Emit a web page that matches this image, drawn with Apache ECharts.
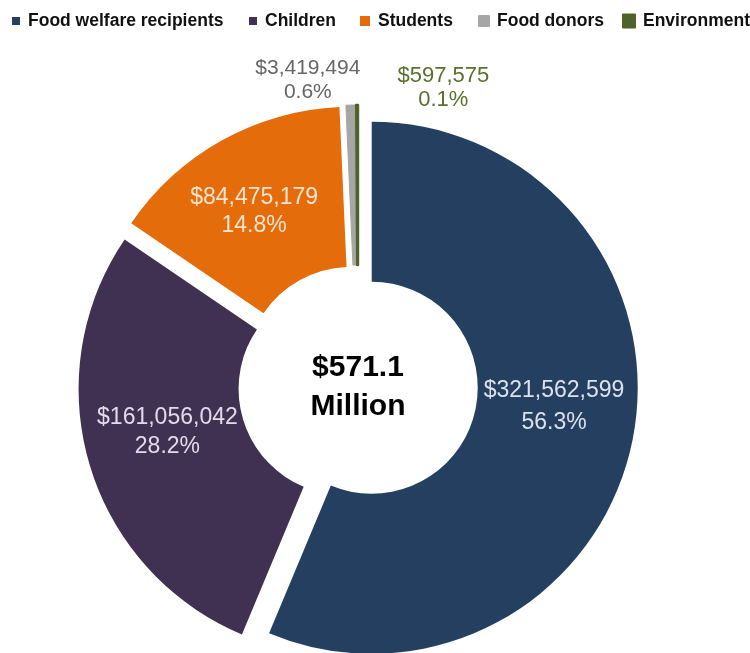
<!DOCTYPE html>
<html>
<head>
<meta charset="utf-8">
<script src="https://cdn.jsdelivr.net/npm/echarts@6/dist/echarts.min.js"></script>
<style>
  html, body { margin: 0; padding: 0; background: #ffffff; }
  #chart { width: 750px; height: 653px; }
</style>
</head>
<body>
<div id="chart"></div>
<script>
// Spending by beneficiary group (USD)
const categories = ['Food welfare recipients', 'Children', 'Students', 'Food donors', 'Environment'];
const amounts = [321562599, 161056042, 84475179, 3419494, 597575];

// Styling
const sliceColors = ['#243f60', '#403152', '#e46c0a', '#a6a6a6', '#4f6228'];
const sliceOutlines = [0, 0, 0, 1, 2.5];
const labelColors = ['#dbe2ee', '#e2dbea', '#fde4cf', '#666666', '#58702c'];
const labelFontSizes = [23, 23, 23, 21, 22];
const labelLineHeights = [32, 29, 28, 24, 24];
const labelNudges = [[-3, -18], [4, -11], [-5, 4], [-45, -102], [86, -94]];
const legendTextStarts = [28, 265, 378, 496, 642];
const legendIconSizes = [[8, 8], [8, 8], [10, 10], [10, 10], [12, 13]];

const pieCenter = [358, 385];
const innerRadius = 106;
const outerRadius = 266;

const total = amounts.reduce((a, b) => a + b, 0);
const fmtMoney = v => '$' + v.toLocaleString('en-US');
const fmtPct = v => (v / total * 100).toFixed(1) + '%';

const chart = echarts.init(document.getElementById('chart'), null, { renderer: 'canvas' });

const pieData = categories.map((name, i) => ({
  name: name,
  value: amounts[i],
  selected: true,
  itemStyle: {
    color: sliceColors[i],
    borderColor: sliceColors[i],
    borderWidth: sliceOutlines[i]
  },
  label: {
    color: labelColors[i],
    fontSize: labelFontSizes[i],
    lineHeight: labelLineHeights[i]
  }
}));

const legends = categories.map((name, i) => ({
  data: [name],
  left: legendTextStarts[i] - 8 - legendIconSizes[i][0],
  top: 12,
  orient: 'horizontal',
  icon: 'rect',
  itemWidth: legendIconSizes[i][0],
  itemHeight: legendIconSizes[i][1],
  selectedMode: false,
  padding: 0,
  textStyle: {
    fontFamily: '"Liberation Sans", Arial, sans-serif',
    fontWeight: 'bold',
    fontSize: 17.5,
    color: '#111111',
    padding: [0, 0, 0, 3]
  }
}));

chart.setOption({
  animation: false,
  backgroundColor: '#ffffff',
  legend: legends,
  graphic: [{
    type: 'text',
    x: pieCenter[0],
    y: pieCenter[1] + 2,
    silent: true,
    style: {
      text: '$' + (total / 1e6).toFixed(1) + '\nMillion',
      font: 'bold 30px "Liberation Sans", Arial, sans-serif',
      lineHeight: 39,
      fill: '#000000',
      textAlign: 'center',
      textVerticalAlign: 'middle'
    }
  }],
  series: [{
    type: 'pie',
    center: pieCenter,
    radius: [innerRadius, outerRadius],
    startAngle: 90,
    clockwise: true,
    selectedMode: 'multiple',
    selectedOffset: 14,
    avoidLabelOverlap: false,
    silent: true,
    emphasis: { disabled: true },
    label: {
      show: true,
      position: 'inside',
      fontFamily: '"Liberation Sans", Arial, sans-serif',
      align: 'center',
      formatter: p => fmtMoney(p.value) + '\n' + fmtPct(p.value)
    },
    labelLine: { show: false },
    labelLayout: params => {
      const n = labelNudges[params.dataIndex];
      return { dx: n[0], dy: n[1] };
    },
    data: pieData
  }]
});
</script>
</body>
</html>
